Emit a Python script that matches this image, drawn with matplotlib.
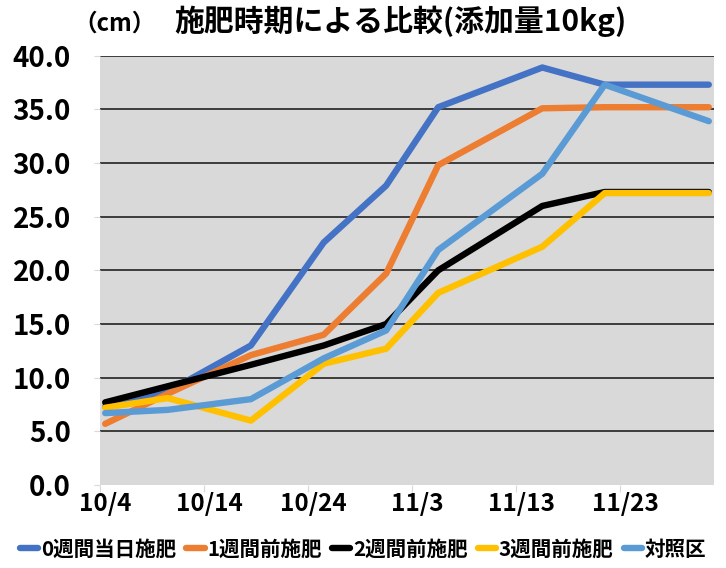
import matplotlib
matplotlib.use('Agg')
import matplotlib.pyplot as plt
import pandas as pd

plt.rcParams['font.family'] = ['Noto Sans CJK JP', 'DejaVu Sans']
plt.rcParams['font.weight'] = 'bold'

# ─── данные ─────────────────────────────────────────────────────────
dates = ['2021-10-04', '2021-10-10', '2021-10-18', '2021-10-25', '2021-10-31',
         '2021-11-05', '2021-11-15', '2021-11-21', '2021-12-01']
week0 = [7.3, 8.7, 13.0, 22.6, 27.9, 35.2, 38.9, 37.3, 37.3]
week1 = [5.7, 8.5, 12.1, 14.0, 19.7, 29.8, 35.1, 35.2, 35.2]
week2 = [7.7, 9.2, 11.2, 13.0, 15.0, 20.0, 26.0, 27.3, 27.3]
week3 = [7.2, 8.1, 6.0, 11.3, 12.7, 17.9, 22.2, 27.2, 27.2]
control = [6.7, 7.0, 8.0, 11.8, 14.4, 21.9, 29.0, 37.3, 33.9]
names = ['0週間当日施肥', '1週間前施肥', '2週間前施肥', '3週間前施肥', '対照区']
colors = ['#4472C4', '#ED7D31', '#000000', '#FFC000', '#5B9BD5']
tick_dates = ['2021-10-04', '2021-10-14', '2021-10-24', '2021-11-03', '2021-11-13', '2021-11-23']
tick_labels = ['10/4', '10/14', '10/24', '11/3', '11/13', '11/23']

start = pd.Timestamp('2021-10-04')
days = [(pd.Timestamp(d) - start).days + 0.5 for d in dates]
ticks = [(pd.Timestamp(d) - start).days for d in tick_dates]

fig = plt.figure(figsize=(7.26, 5.68), dpi=100)
ax = fig.add_axes([100 / 726, 1 - 485 / 568, 614 / 726, 429.3 / 568])
ax.set_facecolor('#D9D9D9')

for vals, name, c in zip([week0, week1, week2, week3, control], names, colors):
    ax.plot(days, vals, color=c, lw=4.6, solid_capstyle='round',
            solid_joinstyle='round', label=name)

ax.set_xlim(0, 59)
ax.set_ylim(0, 40)
ax.set_yticks(range(0, 41, 5))
ax.set_yticklabels([f'{v:.1f}' for v in range(0, 41, 5)], fontsize=20, fontweight='bold')
for y in range(5, 41, 5):
    ax.axhline(y, color='#222222', lw=1.2, zorder=0.5)

# подписи дат по центру дня, засечки на границе
ax.set_xticks(ticks)
ax.set_xticklabels([])
ax.set_xticks([t + 0.5 for t in ticks], minor=True)
ax.set_xticklabels(tick_labels, minor=True, fontsize=17.5, fontweight='bold')
ax.tick_params(axis='x', which='major', length=5, color='#D9D9D9', direction='out')
ax.tick_params(axis='x', which='minor', length=0, pad=5)
ax.tick_params(axis='y', length=4, color='#D9D9D9', pad=17)
for s in ax.spines.values():
    s.set_visible(False)

fig.text(0.551, 0.963, '施肥時期による比較(添加量10kg)', ha='center', va='center',
         fontsize=21.5, fontweight='bold')
fig.text(0.158, 0.958, '（cm）', ha='center', va='center', fontsize=17, fontweight='bold')

fig.legend(loc='center', bbox_to_anchor=(0.5, 1 - 549 / 568), ncol=5, frameon=False,
           handlelength=0.9, handletextpad=0.12, columnspacing=0.5,
           prop={'weight': 'bold', 'size': 14.8})

fig.savefig('out.png', dpi=100)
